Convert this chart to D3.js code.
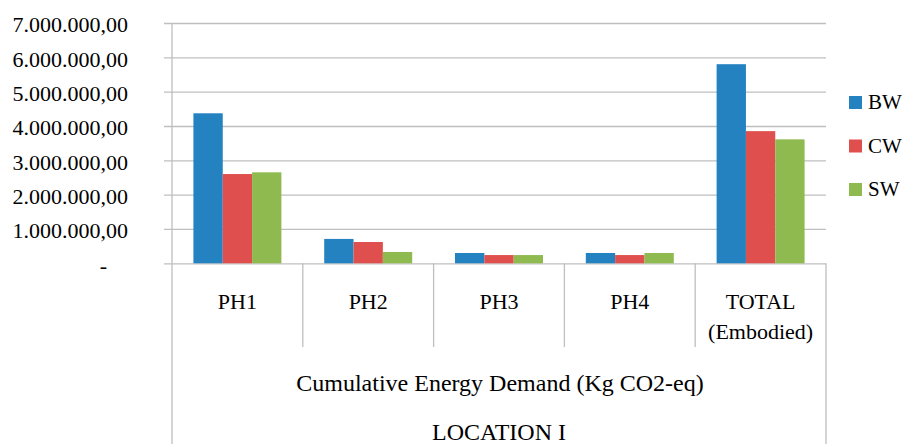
<!DOCTYPE html>
<html lang="en">
<head>
<meta charset="UTF-8">
<script src="https://d3js.org/d3.v7.min.js"></script>
<style>
  body { margin: 0; background: #fff; }
</style>
</head>
<body>
<script type="text/javascript">

    let categories = ["PH1", "PH2", "PH3", "PH4", "TOTAL (Embodied)"];
    let series = ["BW", "CW", "SW"];
    let colors = ["#2482c1", "#df4f4d", "#8fba4f"];
    // values per series, same order as categories
    let bw = [4370000, 710000, 300000, 300000, 5800000];
    let cw = [2600000, 620000, 240000, 240000, 3850000];
    let sw = [2650000, 330000, 240000, 300000, 3610000];
    let yTicks = [0, 1000000, 2000000, 3000000, 4000000, 5000000, 6000000, 7000000];
    let level2 = "Cumulative Energy Demand (Kg CO2-eq)";
    let level3 = "LOCATION I";

    let width = 906;
    let height = 444;
    let gridColor = "#bfbfbf";
    let font = "Liberation Serif";

    let svg = d3.select("body")
        .append("svg")
        .attr("width", width)
        .attr("height", height)
        .attr("font-family", font);

    let x0 = d3.scaleBand()
        .domain(categories)
        .range([172, 826])
        .paddingInner(0)
        .paddingOuter(0);

    let x1 = d3.scaleBand()
        .domain(series)
        .range([0, x0.bandwidth()])
        .paddingInner(0)
        .paddingOuter(0.73);

    let y = d3.scaleLinear()
        .domain([0, 7000000])
        .range([263.3, 23]);

    let locale = d3.formatLocale({decimal: ",", thousands: ".", grouping: [3], currency: ["", ""]});
    let fmt = locale.format(",.2f");

    // y axis: gridlines + labels
    let yAxis = svg.append("g")
        .attr("transform", "translate(172,0)")
        .call(d3.axisLeft(y)
            .tickValues(yTicks)
            .tickSize(8)
            .tickPadding(36)
            .tickFormat(d => d === 0 ? "-" : fmt(d)));

    yAxis.attr("font-family", font);
    yAxis.select(".domain").remove();
    yAxis.selectAll(".tick line")
        .attr("x2", 826 - 172)
        .attr("x1", -8)
        .attr("stroke", gridColor)
        .attr("stroke-width", 1.3);
    yAxis.selectAll(".tick text")
        .attr("font-size", 22)
        .attr("fill", "#000")
        .attr("dy", "0.4em")
        .attr("x", d => d === 0 ? -65 : -44);

    // left axis line over the full height
    svg.append("line")
        .attr("x1", 172).attr("x2", 172)
        .attr("y1", 23).attr("y2", height)
        .attr("stroke", gridColor).attr("stroke-width", 1.3);
    svg.append("line")
        .attr("x1", 826).attr("x2", 826)
        .attr("y1", y(0)).attr("y2", height)
        .attr("stroke", gridColor).attr("stroke-width", 1.3);

    // category separators
    svg.selectAll(".sep")
        .data(categories.slice(1))
        .join("line")
        .attr("class", "sep")
        .attr("x1", d => x0(d)).attr("x2", d => x0(d))
        .attr("y1", y(0)).attr("y2", 347)
        .attr("stroke", gridColor).attr("stroke-width", 1.3);

    // bars
    let data = [bw, cw, sw];
    let groups = svg.selectAll(".cat")
        .data(categories)
        .join("g")
        .attr("class", "cat")
        .attr("transform", d => `translate(${x0(d)},0)`);

    groups.selectAll("rect")
        .data((d, i) => series.map((s, j) => ({s: s, v: data[j][i], c: colors[j]})))
        .join("rect")
        .attr("x", d => x1(d.s))
        .attr("width", x1.bandwidth())
        .attr("y", d => y(d.v))
        .attr("height", d => y(0) - y(d.v))
        .attr("fill", d => d.c);

    // category labels
    let catText = svg.selectAll(".catlabel")
        .data(categories)
        .join("text")
        .attr("class", "catlabel")
        .attr("font-size", 22)
        .attr("text-anchor", "middle")
        .attr("transform", d => `translate(${x0(d) + x0.bandwidth() / 2},309)`);

    catText.selectAll("tspan")
        .data(d => d.split(" "))
        .join("tspan")
        .attr("x", 0)
        .attr("y", (d, i) => i * 30)
        .text(d => d);

    svg.append("text")
        .attr("x", 500).attr("y", 391)
        .attr("font-size", 24)
        .attr("text-anchor", "middle")
        .text(level2);

    svg.append("text")
        .attr("x", 499).attr("y", 440)
        .attr("font-size", 24)
        .attr("text-anchor", "middle")
        .text(level3);

    // legend
    let legend = svg.selectAll(".legend")
        .data(series)
        .join("g")
        .attr("class", "legend")
        .attr("transform", (d, i) => `translate(849,${96 + i * 43.5})`);

    legend.append("rect")
        .attr("width", 13).attr("height", 13)
        .attr("fill", (d, i) => colors[i]);

    legend.append("text")
        .attr("x", 19).attr("y", 13)
        .attr("font-size", 21)
        .text(d => d);

</script>
</body>
</html>
